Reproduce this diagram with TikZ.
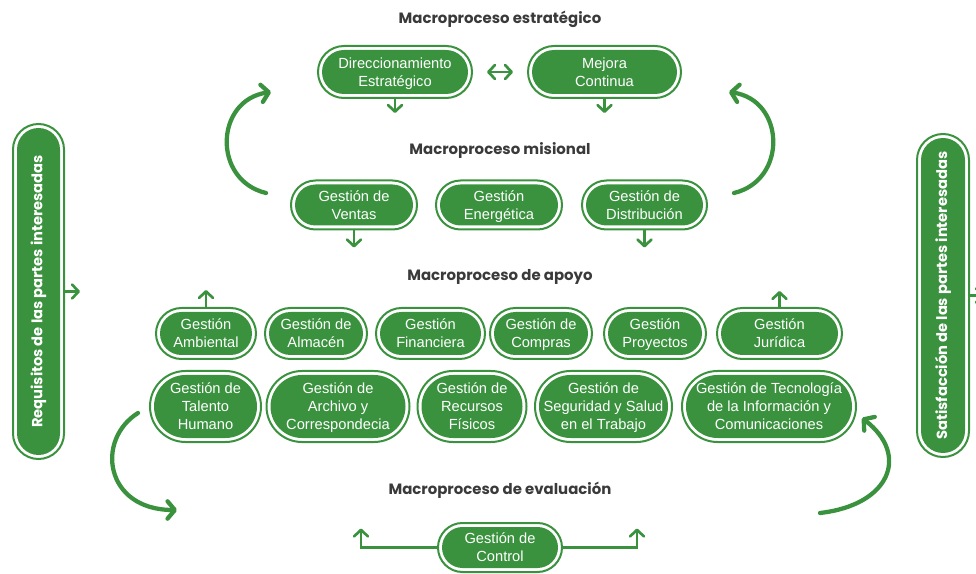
\documentclass[tikz,border=0pt]{standalone}
\usepackage{fontspec}
\usetikzlibrary{arrows.meta}
\newfontfamily\pillfont{Liberation Sans}
\newfontfamily\headfont{Poppins}
\definecolor{leaf}{RGB}{58,146,62}
\definecolor{ink}{RGB}{58,58,58}

\tikzset{
  pill/.style 2 args={fill=leaf, text=white, align=center, inner sep=0pt, text depth=0pt,
    font=\pillfont\fontsize{11pt}{13.5pt}\selectfont,
    minimum width=(#1-10)*0.75pt, minimum height=(#2-10)*0.75pt,
    rounded corners={min(#1,#2)*0.375pt-3.75pt}},
  ring/.style 2 args={draw=leaf, line width=1.5pt, inner sep=0pt,
    minimum width=(#1-2)*0.75pt, minimum height=(#2-2)*0.75pt,
    rounded corners={min(#1,#2)*0.375pt-0.75pt}},
  heading/.style={text=ink, font=\headfont\bfseries\fontsize{11.2pt}{13pt}\selectfont},
  barfont/.style={font=\headfont\bfseries\fontsize{11pt}{13pt}\selectfont},
  stem/.style={draw=leaf, line width=2pt, -{Straight Barb[length=5pt,width=10.5pt,round]}},
  bigarc/.style={draw=leaf, line width=3.2pt, line cap=round, -{Straight Barb[length=5.5pt,width=13pt,round]}}
}

\begin{document}
\begin{tikzpicture}[x=0.75pt, y=-0.75pt]
\useasboundingbox (0,0) rectangle (976,574);

\node[heading] (h-est) at (500,19) {Macroproceso estratégico};
\node[heading] (h-mis) at (500,151) {Macroproceso misional};
\node[heading] (h-apo) at (500,277) {Macroproceso de apoyo};
\node[heading] (h-eva) at (500,490) {Macroproceso de evaluación};

% estrategico
\node[pill={156}{54}] (direc) at (395,72) {Direccionamiento\\Estratégico};
\node[ring={156}{54}] (direc-r) at (direc) {};
\node[pill={155}{54}] (mejora) at (604.5,72) {Mejora\\Continua};
\node[ring={155}{54}] (mejora-r) at (mejora) {};

% misional
\node[pill={128}{51}] (ventas) at (354,205) {Gestión de\\Ventas};
\node[ring={128}{51}] (ventas-r) at (ventas) {};
\node[pill={128}{51}] (energia) at (499,205) {Gestión\\Energética};
\node[ring={128}{51}] (energia-r) at (energia) {};
\node[pill={127}{51}] (distrib) at (644.5,205) {Gestión de\\Distribución};
\node[ring={127}{51}] (distrib-r) at (distrib) {};

% apoyo
\node[pill={102}{53}] (ambient) at (206,333.5) {Gestión\\Ambiental};
\node[ring={102}{53}] (ambient-r) at (ambient) {};
\node[pill={104}{53}] (almacen) at (316,333.5) {Gestión de\\Almacén};
\node[ring={104}{53}] (almacen-r) at (almacen) {};
\node[pill={111}{53}] (finan) at (430.5,333.5) {Gestión\\Financiera};
\node[ring={111}{53}] (finan-r) at (finan) {};
\node[pill={104}{53}] (compras) at (541,333.5) {Gestión de\\Compras};
\node[ring={104}{53}] (compras-r) at (compras) {};
\node[pill={104}{53}] (proyec) at (655,333.5) {Gestión\\Proyectos};
\node[ring={104}{53}] (proyec-r) at (proyec) {};
\node[pill={127}{53}] (juridica) at (779.5,333.5) {Gestión\\Jurídica};
\node[ring={127}{53}] (juridica-r) at (juridica) {};

\node[pill={113}{73}] (talento) at (205.5,406.5) {Gestión de\\Talento\\Humano};
\node[ring={113}{73}] (talento-r) at (talento) {};
\node[pill={145}{73}] (archivo) at (338,406.5) {Gestión de\\Archivo y\\Correspondecia};
\node[ring={145}{73}] (archivo-r) at (archivo) {};
\node[pill={111}{73}] (recursos) at (472,406.5) {Gestión de\\Recursos\\Físicos};
\node[ring={111}{73}] (recursos-r) at (recursos) {};
\node[pill={139}{73}] (segur) at (603.5,406.5) {Gestión de\\Seguridad y Salud\\en el Trabajo};
\node[ring={139}{73}] (segur-r) at (segur) {};
\node[pill={176}{73}] (tecno) at (769,406.5) {Gestión de Tecnología\\de la Información y\\Comunicaciones};
\node[ring={176}{73}] (tecno-r) at (tecno) {};

% evaluacion
\node[pill={126}{51}] (control) at (500,547.5) {Gestión de\\Control};
\node[ring={126}{51}] (control-r) at (control) {};

% partes interesadas
\node[pill={53}{337}, barfont] (req) at (38.5,291.5) {\rotatebox{90}{Requisitos de las partes interesadas}};
\node[ring={53}{337}] (req-r) at (req) {};
\node[pill={54}{325}, barfont] (sat) at (943,295.5) {\rotatebox{90}{Satisfacción de las partes interesadas}};
\node[ring={54}{325}] (sat-r) at (sat) {};

\draw[stem, {Straight Barb[length=5pt,width=10.5pt,round]}-{Straight Barb[length=5pt,width=10.5pt,round]}, shorten <=10.5pt, shorten >=10.5pt] (direc-r) -- (mejora-r);
\draw[stem] (direc-r.south) -- ++(0,14);
\draw[stem] (mejora-r.south) -- ++(0,14);
\draw[stem] (ventas-r.south) -- ++(0,17);
\draw[stem] (distrib-r.south) -- ++(0,17);
\draw[stem] (ambient-r.north) -- ++(0,-17);
\draw[stem] (juridica-r.north) -- ++(0,-16);
\draw[stem] (control-r.west) -| ++(-76,-19);
\draw[stem] (control-r.east) -| ++(74,-19);
\draw[stem] (req-r.east) -- ++(15,0);
\draw[stem] (sat-r.east) -- ++(14,0);

\coordinate (tl-a) at (266,193);
\coordinate (tl-b) at (271,92);
\coordinate (tr-a) at (734,193);
\coordinate (tr-b) at (729,92);
\coordinate (bl-a) at (138,413);
\coordinate (bl-b) at (177,510);
\coordinate (br-a) at (820,513);
\coordinate (br-b) at (862,418);
\draw[bigarc] (tl-a) .. controls (212,180) and (215,100) .. (tl-b);
\draw[bigarc] (tr-a) .. controls (788,180) and (785,100) .. (tr-b);
\draw[bigarc] (bl-a) .. controls (95,440) and (105,510) .. (bl-b);
\draw[bigarc] (br-a) .. controls (890,505) and (910,455) .. (br-b);
\end{tikzpicture}
\end{document}
